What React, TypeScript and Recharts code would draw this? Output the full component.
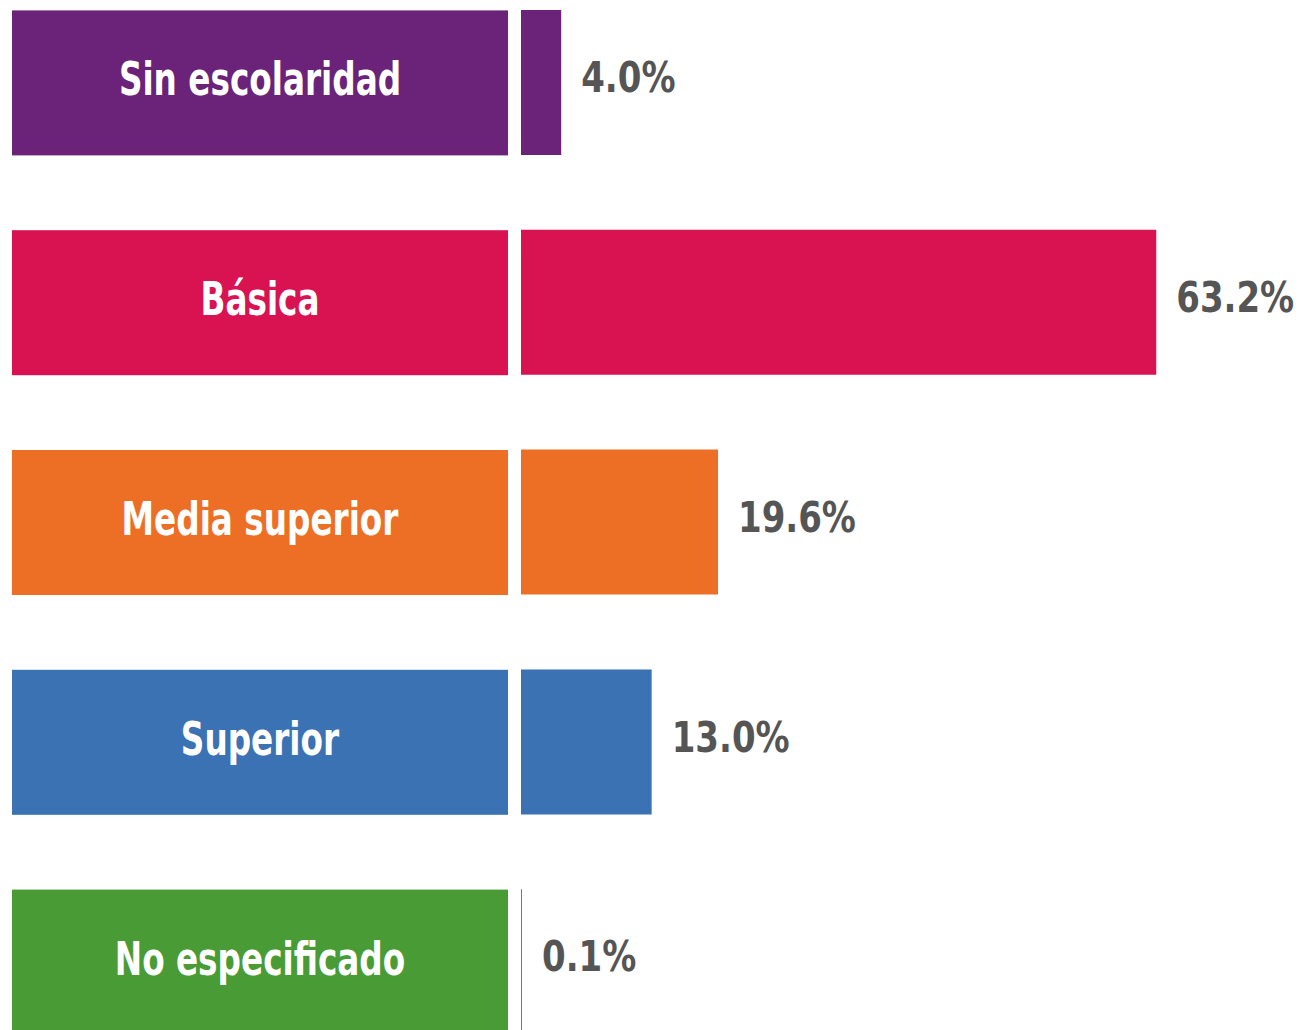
import React from 'react';
import { BarChart, Bar, XAxis, YAxis, Cell, LabelList } from 'recharts';

const categories = ['Sin escolaridad', 'Básica', 'Media superior', 'Superior', 'No especificado'];
const values = [4.0, 63.2, 19.6, 13.0, 0.1];
const colors = ['#6a2378', '#d91252', '#ed6f26', '#3a72b3', '#489b35'];

const data = categories.map((name, i) => ({ name, value: values[i], color: colors[i] }));

const BOX_W = 496;

// coloured box with the category name, drawn as the y-axis tick
const LabelBox = (props: any) => {
  const { x, y, payload, index } = props;
  const h = 145;
  return (
    <g>
      <rect x={x - BOX_W} y={y - h / 2} width={BOX_W} height={h} fill={colors[index]} />
      <text
        transform={`translate(${x - BOX_W / 2}, ${y - 3}) scale(0.79, 1)`}
        textAnchor="middle"
        dominantBaseline="central"
        fill="#fff"
        fontFamily="'DejaVu Sans Condensed', 'DejaVu Sans', sans-serif"
        fontWeight="bold"
        fontSize={46}
      >
        {payload.value}
      </text>
    </g>
  );
};

const ValueLabel = (props: any) => {
  const { x, y, width, height, value } = props;
  return (
    <text
      transform={`translate(${x + width + 20}, ${y + height / 2 - 5}) scale(0.9, 1)`}
      dominantBaseline="central"
      fill="#555"
      fontFamily="'DejaVu Sans Condensed', 'DejaVu Sans', sans-serif"
      fontWeight="bold"
      fontSize={42}
    >
      {`${Number(value).toFixed(1)}%`}
    </text>
  );
};

const App: React.FC = () => {
  return (
    <div style={{ position: 'absolute', left: 0, top: -27, background: '#fff' }}>
      <BarChart
        width={1305}
        height={1099}
        data={data}
        layout="vertical"
        margin={{ top: 0, right: 0, bottom: 0, left: 0 }}
        barCategoryGap={75}
      >
        <XAxis type="number" domain={[0, 78]} hide />
        <YAxis
          type="category"
          dataKey="name"
          width={521}
          axisLine={false}
          tickLine={false}
          tickSize={0}
          tickMargin={13}
          tick={<LabelBox />}
          interval={0}
        />
        <Bar dataKey="value" barSize={145} isAnimationActive={false}>
          {data.map((d) => (
            <Cell key={d.name} fill={d.color} />
          ))}
          <LabelList dataKey="value" content={<ValueLabel />} />
        </Bar>
      </BarChart>
    </div>
  );
};

export default App;
